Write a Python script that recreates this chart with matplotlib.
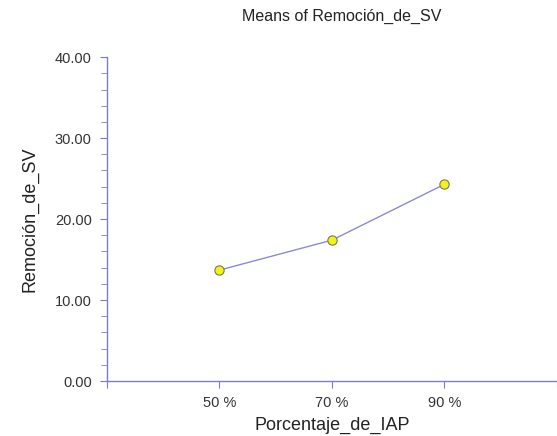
import matplotlib
matplotlib.use("Agg")
import matplotlib.pyplot as plt
from matplotlib.ticker import MultipleLocator

categories = ["50 %", "70 %", "90 %"]
means = [13.7, 17.4, 24.3]

plt.rcParams['font.family'] = ['Liberation Sans', 'DejaVu Sans']

fig = plt.figure(figsize=(5.57, 4.36), dpi=100)
ax = fig.add_axes([0.192, 0.126, 0.808, 0.743])

axc = "#7b7bc8"
xs = list(range(1, len(categories) + 1))
ax.plot(xs, means, color="#8a8ad6", lw=1.0, zorder=2)
ax.scatter(xs, means, s=45, color="#f2f21a", edgecolors="#7a7a50", linewidths=0.8, zorder=3)

ax.set_xlim(0, len(categories) + 1)
ax.set_ylim(0, 40)
ax.set_xticks(range(0, len(categories) + 2))
ax.set_xticklabels([""] + categories + [""])
ax.yaxis.set_major_locator(MultipleLocator(10))
ax.yaxis.set_minor_locator(MultipleLocator(2))
ax.set_yticklabels([f"{v:.2f}" for v in ax.get_yticks()])

for s in ["top", "right"]:
    ax.spines[s].set_visible(False)
for s in ["left", "bottom"]:
    ax.spines[s].set_color(axc)
    ax.spines[s].set_linewidth(1.0)
ax.tick_params(axis="both", which="both", color=axc, labelsize=10.5, labelcolor="#333333")
ax.tick_params(axis="y", which="major", length=5, pad=6)
ax.tick_params(axis="y", which="minor", length=4)
ax.tick_params(axis="x", which="major", length=5, pad=6)

ax.set_xlabel("Porcentaje_de_IAP", fontsize=13, labelpad=5, color="#222222")
ax.set_ylabel("Remoción_de_SV", fontsize=13, labelpad=12, color="#222222")
fig.text(0.614, 0.962, "Means of Remoción_de_SV", ha="center", va="center", fontsize=11.5, color="#222222")

fig.savefig("out.png", dpi=100)
